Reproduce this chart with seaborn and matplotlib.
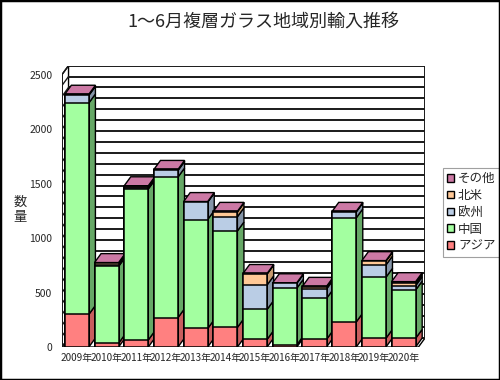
import numpy as np
import pandas as pd
import matplotlib
matplotlib.use("Agg")
import matplotlib.pyplot as plt
from matplotlib.patches import Polygon, Patch, Rectangle
import seaborn as sns

years = ['2009年', '2010年', '2011年', '2012年', '2013年', '2014年',
         '2015年', '2016年', '2017年', '2018年', '2019年', '2020年']
asia   = [300, 35, 65, 270, 170, 180, 70, 20, 70, 230, 80, 80]
china  = [1940, 705, 1385, 1290, 1000, 885, 275, 520, 376, 955, 560, 443]
europe = [70, 10, 10, 60, 160, 130, 225, 45, 86, 55, 113, 40]
namer  = [0, 20, 10, 0, 0, 45, 100, 0, 20, 0, 35, 22]
other  = [10, 5, 10, 10, 5, 5, 5, 5, 5, 5, 5, 15]

series_names = ['アジア', '中国', '欧州', '北米', 'その他']
series_vals = [asia, china, europe, namer, other]
front_cols = ['#FF8080', '#A3FFA0', '#BACDE5', '#FFC896', '#CC79A5']
side_cols = ['#C85E5E', '#66A866', '#8595A8', '#C89A6E', '#9E5A80']

sns.set_theme(style="white")
plt.rcParams['font.family'] = ['Noto Sans CJK JP', 'DejaVu Sans']

fig = plt.figure(figsize=(5, 3.8), dpi=100)
fig.patch.set_facecolor('white')
ax = fig.add_axes([0.124, 0.0868, 0.726, 0.7405])
ax.set_facecolor('none')

dx, dy = 0.22, 82
w = 0.81
ymax = 2500
n = len(years)

df = pd.DataFrame({'year': years})
cum = np.zeros(n)
bottoms = []
tops = []
for v in series_vals:
    bottoms.append(cum.copy())
    cum = cum + np.array(v)
    tops.append(cum.copy())

# back wall gridlines, left wall and floor
ax.add_patch(Polygon([(-0.5, 0), (-0.5 + dx, dy), (-0.5 + dx, ymax + dy), (-0.5, ymax)],
                     closed=True, facecolor='white', edgecolor='black', lw=1.0, zorder=0.5))
ax.add_patch(Polygon([(-0.5, 0), (n - 0.5, 0), (n - 0.5 + dx, dy), (-0.5 + dx, dy)],
                     closed=True, facecolor='white', edgecolor='black', lw=1.0, zorder=0.5))
for g in range(0, ymax + 1, 100):
    ax.plot([-0.5 + dx, n - 0.5 + dx], [g + dy, g + dy], color='#1a1a1a', lw=1.4, zorder=1)
    ax.plot([-0.5, -0.5 + dx], [g, g + dy], color='#1a1a1a', lw=1.0, zorder=1)
ax.plot([n - 0.5 + dx, n - 0.5 + dx], [dy, ymax + dy], color='#1a1a1a', lw=1.4, zorder=1)
ax.plot([-0.5, -0.5], [0, ymax], color='#1a1a1a', lw=1.4, zorder=1)

# front faces via seaborn, drawn from total down
for k in range(len(series_vals) - 1, -1, -1):
    df['v'] = tops[k]
    sns.barplot(data=df, x='year', y='v', color=front_cols[k], saturation=1,
                width=w, edgecolor='black', linewidth=1.1, ax=ax, zorder=3)

# side and top faces computed from the same data
for i in range(n):
    xr = i + w / 2
    xl = i - w / 2
    for k in range(len(series_vals)):
        b, t = bottoms[k][i], tops[k][i]
        if t - b <= 0:
            continue
        ax.add_patch(Polygon([(xr, b), (xr + dx, b + dy), (xr + dx, t + dy), (xr, t)],
                             closed=True, facecolor=side_cols[k], edgecolor='black',
                             lw=1.0, zorder=2))
    T = tops[-1][i]
    ax.add_patch(Polygon([(xl, T), (xl + dx, T + dy), (xr + dx, T + dy), (xr, T)],
                         closed=True, facecolor=front_cols[-1], edgecolor='black',
                         lw=1.0, zorder=2))

ax.set_xlim(-0.5, n - 0.5 + dx)
ax.set_ylim(0, ymax + dy)
ax.set_yticks(range(0, ymax + 1, 500))
ax.set_yticklabels([str(v) for v in range(0, ymax + 1, 500)], fontsize=7.5)
ax.tick_params(axis='y', length=0, pad=7)
ax.tick_params(axis='x', length=0, pad=4, labelsize=7.2)
ax.set_xlabel('')
ax.set_ylabel('')
for s in ax.spines.values():
    s.set_visible(False)
ax.grid(False)

fig.text(0.04, 0.447, '数\n量', fontsize=9.5, ha='center', va='center', linespacing=1.25)
fig.text(0.526, 0.942, '1～6月複層ガラス地域別輸入推移', fontsize=13, ha='center', va='center')

handles = [Patch(facecolor=front_cols[k], edgecolor='black', linewidth=1.0, label=series_names[k])
           for k in range(len(series_names) - 1, -1, -1)]
leg = fig.legend(handles=handles, loc='upper left', bbox_to_anchor=(0.886, 0.558),
                 fontsize=9, frameon=True, fancybox=False, handlelength=0.55, handleheight=0.55,
                 handletextpad=0.3, borderpad=0.35, labelspacing=0.3, borderaxespad=0)
leg.get_frame().set_edgecolor('#888888')
leg.get_frame().set_linewidth(0.8)

fig.patches.append(Rectangle((0, 0), 1, 1, transform=fig.transFigure, fill=False,
                             edgecolor='black', lw=2.5, zorder=10))

fig.savefig('out.png', dpi=100)
